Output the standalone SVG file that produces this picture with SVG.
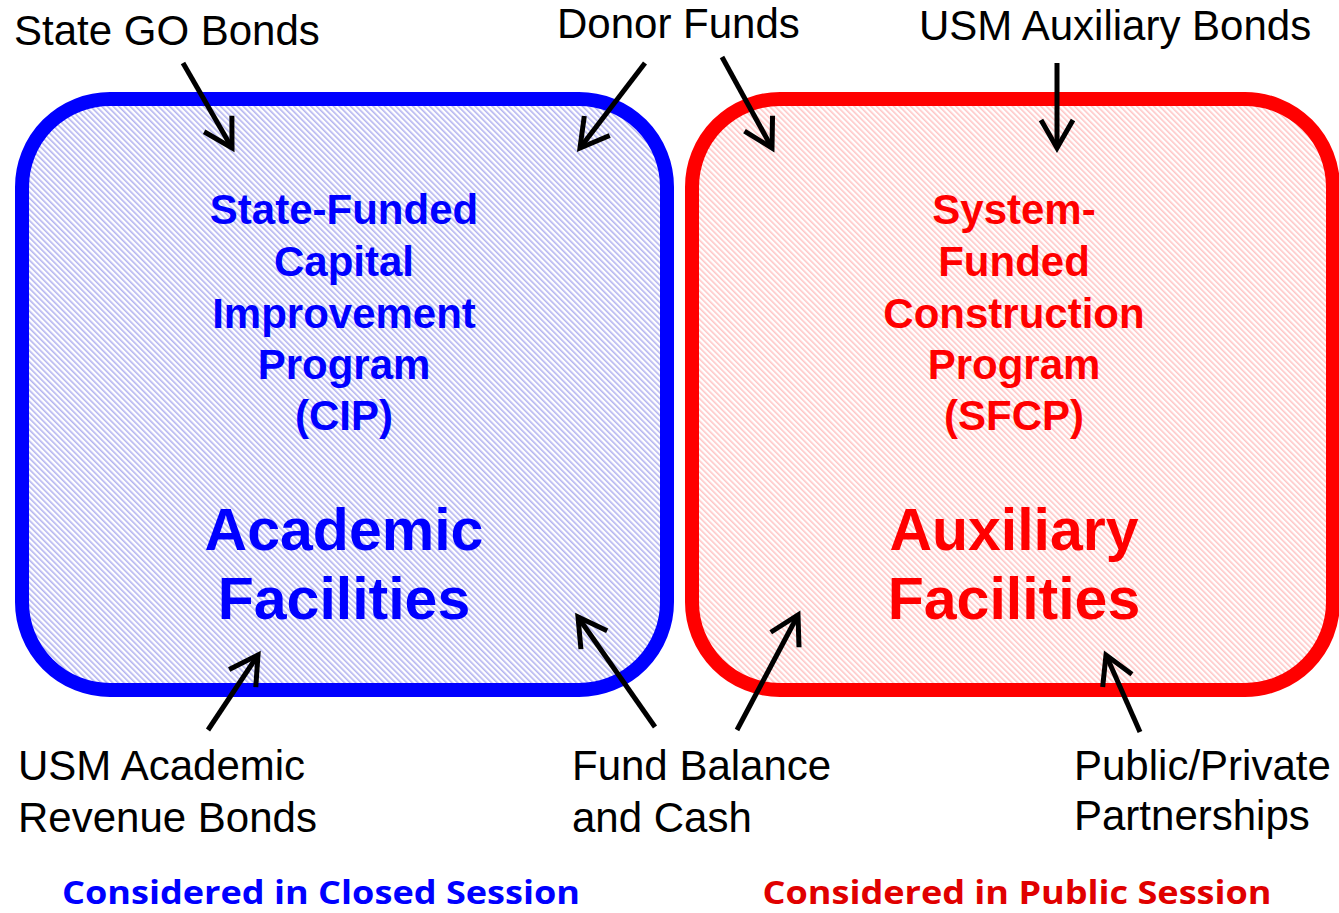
<svg xmlns="http://www.w3.org/2000/svg" width="1339" height="913" viewBox="0 0 1339 913">
<style>
.lbl{font-family:"Liberation Sans",Arial,sans-serif;font-size:42px;fill:#000}
.bt{font-family:"Liberation Sans",Arial,sans-serif;font-weight:bold;font-size:42px;text-anchor:middle}
.big{font-family:"Liberation Sans",Arial,sans-serif;font-weight:bold;font-size:59px;text-anchor:middle}
.foot{font-family:"Open Sans","Noto Sans",sans-serif;font-weight:bold;font-size:33px;text-anchor:middle}
.arrow{stroke:#000;stroke-width:5;fill:none;marker-end:url(#head)}
</style>
<defs>
<pattern id="hb" patternUnits="userSpaceOnUse" width="4" height="4" patternTransform="rotate(-45)">
<rect width="4" height="4" fill="#fff"/>
<rect x="0" y="0" width="1.6" height="4" fill="#b4b4f0"/>
</pattern>
<pattern id="hr" patternUnits="userSpaceOnUse" width="4" height="4" patternTransform="rotate(-45)">
<rect width="4" height="4" fill="#fff"/>
<rect x="0" y="0" width="1.6" height="4" fill="#ffc6c6"/>
</pattern>
<marker id="head" markerUnits="userSpaceOnUse" markerWidth="80" markerHeight="80" viewBox="-40 -40 80 80" refX="0" refY="0" orient="auto" overflow="visible">
<path d="M-28,-16 L0,0 L-28,16" fill="none" stroke="#000" stroke-width="5" stroke-linejoin="miter"/>
</marker>
</defs>
<rect width="1339" height="913" fill="#fff"/>
<g id="academic">
<rect x="22" y="99" width="645" height="591" rx="88" ry="88" fill="url(#hb)" stroke="#0000ff" stroke-width="14"/>
<text class="bt" fill="#0000ff"><tspan x="344" y="224">State-Funded</tspan><tspan x="344" y="276">Capital</tspan><tspan x="344" y="328">Improvement</tspan><tspan x="344" y="379">Program</tspan><tspan x="344" y="430">(CIP)</tspan></text>
<text class="big" fill="#0000ff"><tspan x="344" y="550">Academic</tspan><tspan x="344" y="619">Facilities</tspan></text>
</g>
<g id="auxiliary">
<rect x="692" y="99" width="641" height="591" rx="88" ry="88" fill="url(#hr)" stroke="#ff0000" stroke-width="14"/>
<text class="bt" fill="#ff0000"><tspan x="1014" y="224">System-</tspan><tspan x="1014" y="276">Funded</tspan><tspan x="1014" y="328">Construction</tspan><tspan x="1014" y="379">Program</tspan><tspan x="1014" y="430">(SFCP)</tspan></text>
<text class="big" fill="#ff0000"><tspan x="1014" y="550">Auxiliary</tspan><tspan x="1014" y="619">Facilities</tspan></text>
</g>
<g id="src-state-go"><text class="lbl" x="14" y="45">State GO Bonds</text></g>
<g id="src-donor"><text class="lbl" x="557" y="38">Donor Funds</text></g>
<g id="src-usm-aux"><text class="lbl" x="919" y="40">USM Auxiliary Bonds</text></g>
<g id="src-usm-acad"><text class="lbl"><tspan x="18" y="780">USM Academic</tspan><tspan x="18" y="832">Revenue Bonds</tspan></text></g>
<g id="src-fund"><text class="lbl"><tspan x="572" y="780">Fund Balance</tspan><tspan x="572" y="832">and Cash</tspan></text></g>
<g id="src-ppp"><text class="lbl"><tspan x="1074" y="780">Public/Private</tspan><tspan x="1074" y="830">Partnerships</tspan></text></g>
<g id="footer-closed"><text class="foot" x="321" y="904" fill="#0000ff" textLength="518" lengthAdjust="spacingAndGlyphs">Considered in Closed Session</text></g>
<g id="footer-public"><text class="foot" x="1017" y="904" fill="#e00000" textLength="509" lengthAdjust="spacingAndGlyphs">Considered in Public Session</text></g>
<g id="connectors">
<line class="arrow" x1="183" y1="63" x2="232" y2="148"/>
<line class="arrow" x1="645" y1="63" x2="580" y2="148"/>
<line class="arrow" x1="722" y1="57" x2="772" y2="148"/>
<line class="arrow" x1="1057" y1="63" x2="1057" y2="148"/>
<line class="arrow" x1="208" y1="730" x2="258" y2="655"/>
<line class="arrow" x1="655" y1="727" x2="578" y2="617"/>
<line class="arrow" x1="737" y1="730" x2="798" y2="615"/>
<line class="arrow" x1="1140" y1="732" x2="1106" y2="655"/>
</g>
</svg>
